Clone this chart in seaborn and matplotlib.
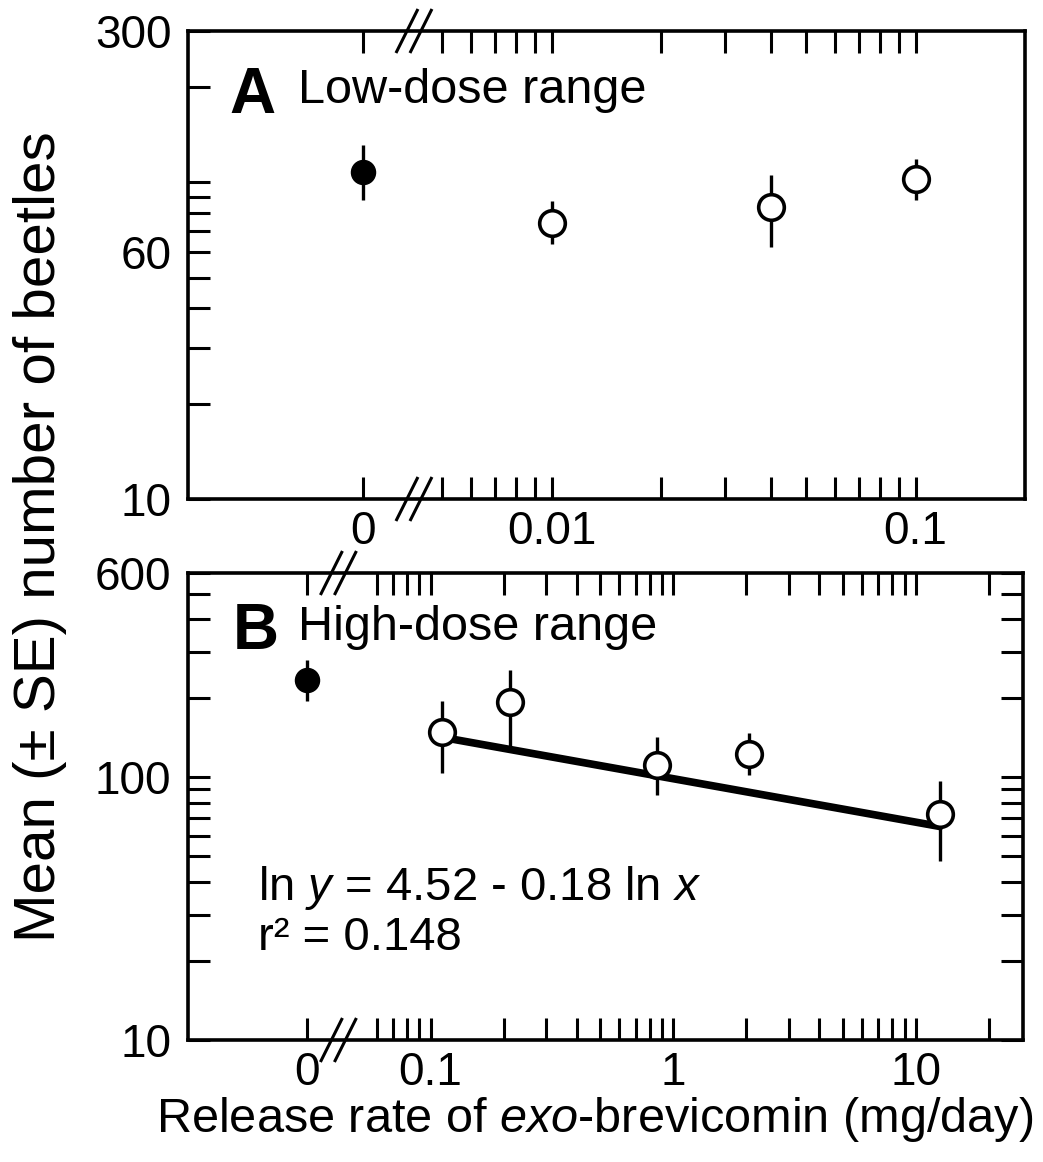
import numpy as np
import pandas as pd
import matplotlib
matplotlib.use("Agg")
import matplotlib.pyplot as plt
import seaborn as sns

# ---------------- data ----------------
# Panel A: low-dose range (0 = control)
dose_a = [0, 0.01, 0.04, 0.1]
mean_a = [108, 74.5, 83.5, 102]
se_lo_a = [88, 64, 62.5, 88]
se_hi_a = [131, 87, 105, 118]

# Panel B: high-dose range (0 = control)
dose_b = [0, 0.112, 0.213, 0.857, 2.05, 12.6]
mean_b = [234, 149, 193, 111, 123, 72.5]
se_lo_b = [195, 104, 128, 86, 102, 48]
se_hi_b = [279, 195, 257, 142, 148, 97]

# regression line endpoints (as drawn)
fit_x = [0.112, 12.6]
fit_y = [142, 65]

xt_labels_a = ["0", "0.01", "0.1"]
xt_labels_b = ["0", "0.1", "1", "10"]
yt_labels_a = ["10", "60", "300"]
yt_labels_b = ["10", "100", "600"]

# ---------------- style ----------------
sns.set_theme(style="ticks")
plt.rcParams["font.family"] = ["Liberation Sans", "DejaVu Sans"]
plt.rcParams["mathtext.fontset"] = "custom"
plt.rcParams["mathtext.rm"] = "Liberation Sans"
plt.rcParams["mathtext.it"] = "Liberation Sans:italic"
plt.rcParams["axes.linewidth"] = 2.6
plt.rcParams["text.color"] = "black"
plt.rcParams["axes.labelcolor"] = "black"
plt.rcParams["xtick.color"] = "black"
plt.rcParams["ytick.color"] = "black"

W, H = 1043, 1162
fig = plt.figure(figsize=(W / 100, H / 100), dpi=100)
axA = fig.add_axes([188 / W, 1 - 499 / H, (1025 - 188) / W, (499 - 31) / H])
axB = fig.add_axes([188 / W, 1 - 1040 / H, (1023 - 188) / W, (1040 - 573) / H])

ZERO_A = 0.00303   # plotting position of the control on axis A
ZERO_B = 0.0308    # plotting position of the control on axis B
TICK_FS = 33


def plot_panel(ax, dose, mean, lo, hi, zero_pos):
    xpos = [zero_pos if d == 0 else d for d in dose]
    df = pd.DataFrame({"x": xpos, "y": mean, "lo": lo, "hi": hi,
                       "ctrl": ["control" if d == 0 else "dose" for d in dose]})
    ax.vlines(df["x"], df["lo"], df["hi"], color="black", lw=2.4, zorder=2)
    sns.scatterplot(data=df[df.ctrl == "control"], x="x", y="y", ax=ax,
                    marker="o", s=300, color="black", edgecolor="black",
                    linewidth=1, zorder=4, legend=False)
    sns.scatterplot(data=df[df.ctrl == "dose"], x="x", y="y", ax=ax,
                    marker="o", s=340, facecolor="white", edgecolor="black",
                    linewidth=2.6, zorder=4, legend=False)


plot_panel(axA, dose_a, mean_a, se_lo_a, se_hi_a, ZERO_A)
plot_panel(axB, dose_b, mean_b, se_lo_b, se_hi_b, ZERO_B)

fit_df = pd.DataFrame({"x": fit_x, "y": fit_y})
sns.lineplot(data=fit_df, x="x", y="y", ax=axB, color="black", lw=5.5, zorder=3)

for ax in (axA, axB):
    ax.set_xscale("log")
    ax.set_yscale("log")
    ax.set_xlabel("")
    ax.set_ylabel("")

axA.set_xlim(0.001, 0.2)
axA.set_ylim(10, 300)
axB.set_xlim(0.01, 27.7)
axB.set_ylim(10, 600)

# x ticks
xa = [ZERO_A] + [i / 1000 for i in range(5, 10)] + [i / 100 for i in range(1, 10)] + [0.1]
xa_lab = dict(zip([ZERO_A, 0.01, 0.1], xt_labels_a))
axA.set_xticks(xa)
axA.set_xticklabels([xa_lab.get(v, "") for v in xa])

xb = [ZERO_B] + [i / 100 for i in range(6, 10)] + [i / 10 for i in range(1, 10)] + \
     list(range(1, 10)) + [10, 20]
xb_lab = dict(zip([ZERO_B, 0.1, 1, 10], xt_labels_b))
axB.set_xticks(xb)
axB.set_xticklabels([xb_lab.get(v, "") for v in xb])

# y ticks
ya = list(range(10, 100, 10)) + [100, 200, 300]
ya_lab = dict(zip([10, 60, 300], yt_labels_a))
axA.set_yticks(ya)
axA.set_yticklabels([ya_lab.get(v, "") for v in ya])

yb = list(range(10, 100, 10)) + [100, 200, 300, 400, 500, 600]
yb_lab = dict(zip([10, 100, 600], yt_labels_b))
axB.set_yticks(yb)
axB.set_yticklabels([yb_lab.get(v, "") for v in yb])
axA.minorticks_off()
axB.minorticks_off()

axA.tick_params(axis="both", which="both", direction="in", length=16, width=2.2,
                top=True, right=False, labelsize=TICK_FS, colors="black")
axA.tick_params(axis="x", pad=8)
axA.tick_params(axis="y", pad=12)
axB.tick_params(axis="both", which="both", direction="in", length=16, width=2.2,
                top=True, right=True, labelsize=TICK_FS, colors="black")
axB.tick_params(axis="x", pad=8)
axB.tick_params(axis="y", pad=12)

for ax in (axA, axB):
    for sp in ax.spines.values():
        sp.set_visible(True)
        sp.set_color("black")
        sp.set_linewidth(2.6)
    ax.set_facecolor("white")


# axis-break marks
def breaks(ax, xb_pos):
    trans = ax.get_xaxis_transform()
    bbox = ax.get_window_extent()
    x0, x1 = [np.log10(v) for v in ax.get_xlim()]
    dec_per_px = (x1 - x0) / bbox.width
    for yb_ in (0.0, 1.0):
        for off in (-7, 7):
            xs = [10 ** (np.log10(xb_pos) + (off - 11) * dec_per_px),
                  10 ** (np.log10(xb_pos) + (off + 11) * dec_per_px)]
            ys = [yb_ - 22 / bbox.height, yb_ + 22 / bbox.height]
            ax.plot(xs, ys, transform=trans, color="black", lw=2.2,
                    clip_on=False, zorder=6, solid_capstyle="butt")


fig.canvas.draw()
breaks(axA, 0.00418)
breaks(axB, 0.0417)

# panel labels
axA.text(0.050, 0.825, "A", transform=axA.transAxes, fontsize=46,
         fontweight="bold", ha="left", va="baseline")
axA.text(0.132, 0.846, "Low-dose range", transform=axA.transAxes, fontsize=35,
         ha="left", va="baseline")
axB.text(0.053, 0.838, "B", transform=axB.transAxes, fontsize=46,
         fontweight="bold", ha="left", va="baseline")
axB.text(0.132, 0.857, "High-dose range", transform=axB.transAxes, fontsize=35,
         ha="left", va="baseline")

axB.text(0.084, 0.300, r"ln $y$ = 4.52 - 0.18 ln $x$", transform=axB.transAxes,
         fontsize=34, ha="left", va="baseline")
axB.text(0.084, 0.193, "r² = 0.148", transform=axB.transAxes,
         fontsize=34, ha="left", va="baseline")

fig.text(40 / W, 1 - 537 / H, "Mean (± SE) number of beetles", rotation=90,
         fontsize=42, ha="center", va="center")
fig.text(595 / W, 1 - 1120 / H, r"Release rate of $exo$-brevicomin (mg/day)",
         fontsize=35, ha="center", va="center")

fig.savefig("out.png", dpi=100, facecolor="white")
